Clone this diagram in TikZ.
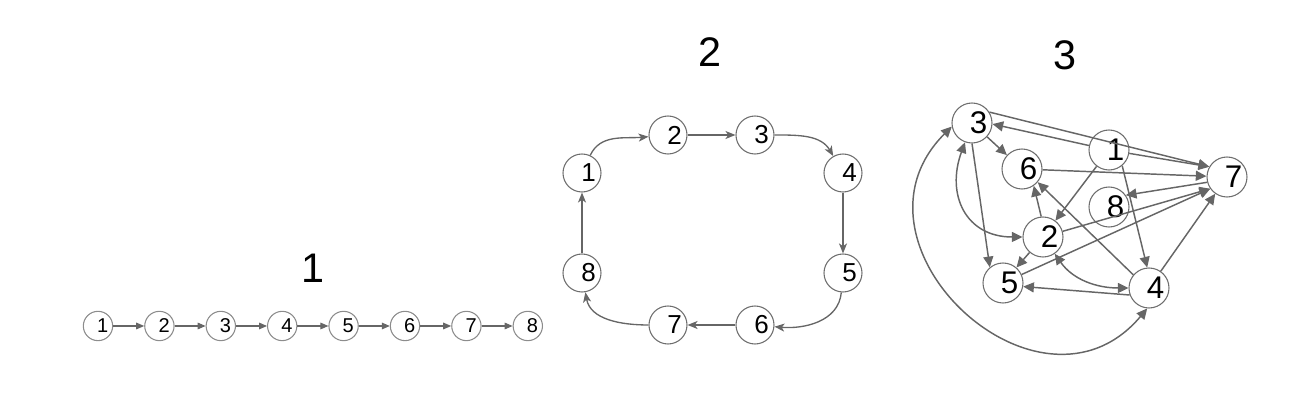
\documentclass[tikz,border=0pt]{standalone}
\usepackage{fontspec}
\setmainfont{Liberation Sans}
\usetikzlibrary{arrows.meta}
\definecolor{edgec}{HTML}{666666}
\definecolor{ringc}{HTML}{6E6E6E}
\definecolor{ringl}{HTML}{8C8C8C}
\begin{document}
\begin{tikzpicture}[x=0.75pt,y=0.75pt,
 n1/.style={circle,draw=ringl,line width=0.8pt,minimum size=22pt,inner sep=0pt},
 t1/.style={font=\fontsize{15}{16}\selectfont,xshift=3.5pt},
 e1/.style={draw=edgec,line width=0.8pt,-{Triangle[length=6pt,width=5pt]}},
 n2/.style={circle,draw=ringc,line width=0.8pt,minimum size=28.5pt,inner sep=0pt},
 t2/.style={font=\fontsize{19.5}{20}\selectfont,xshift=5pt},
 e2/.style={draw=edgec,line width=1pt,-{Stealth[length=7.5pt,width=6pt,inset=2pt]}},
 n3/.style={circle,draw=ringc,line width=0.8pt,minimum size=30pt,inner sep=0pt},
 t3/.style={font=\fontsize{23.5}{24}\selectfont,xshift=5pt},
 e3/.style={draw=edgec,line width=1.1pt,-{Triangle[length=8pt,width=7.5pt]}},
 b3/.style={draw=edgec,line width=1.1pt,{Triangle[length=8pt,width=7.5pt]}-{Triangle[length=8pt,width=7.5pt]}},
 ttl/.style={font=\fontsize{31}{32}\selectfont}]
\useasboundingbox (0,0) rectangle (1300,416);

% ---------- graph 1 ----------
\node[ttl] (h1) at (313,148) {1};
\foreach \i in {1,...,8} {
  \node[n1,label={[t1]center:\i}] (a\i) at ({98+61.4*(\i-1)},90) {};
}
\foreach \i [evaluate=\i as \j using int(\i+1)] in {1,...,7} {
  \draw[e1] (a\i) -- (a\j);
}

% ---------- graph 2 ----------
\node[ttl] (h2) at (710,364) {2};
\node[n2,label={[t2]center:1}] (b1) at (582,243) {};
\node[n2,label={[t2]center:2}] (b2) at (668,281) {};
\node[n2,label={[t2]center:3}] (b3) at (755,281) {};
\node[n2,label={[t2]center:4}] (b4) at (843,243) {};
\node[n2,label={[t2]center:5}] (b5) at (843,143) {};
\node[n2,label={[t2]center:6}] (b6) at (755,91) {};
\node[n2,label={[t2]center:7}] (b7) at (668,91) {};
\node[n2,label={[t2]center:8}] (b8) at (582,143) {};
\draw[e2] (b1) to[out=65,in=185] (b2);
\draw[e2] (b2) -- (b3);
\draw[e2] (b3) to[out=0,in=120] (b4);
\draw[e2] (b4) -- (b5);
\draw[e2] (b5) to[out=-95,in=-5] (b6);
\draw[e2] (b6) -- (b7);
\draw[e2] (b7) to[out=180,in=-80] (b8);
\draw[e2] (b8) -- (b1);

% ---------- graph 3 ----------
\node[ttl] (h3) at (1065,361) {3};
\node[n3,label={[t3]center:1}] (c1) at (1109,266) {};
\node[n3,label={[t3]center:2}] (c2) at (1043,179) {};
\node[n3,label={[t3]center:3}] (c3) at (972,293) {};
\node[n3,label={[t3]center:4}] (c4) at (1149,128) {};
\node[n3,label={[t3]center:5}] (c5) at (1003,133) {};
\node[n3,label={[t3]center:6}] (c6) at (1022,247) {};
\node[n3,label={[t3]center:7}] (c7) at (1227,239) {};
\node[n3,label={[t3]center:8}] (c8) at (1109,209) {};

\draw[e3] (c3.32) -- (c7.150);
\draw[e3] (c1) -- (c3.-3);
\draw[e3] (c1) -- (c7.150);
\draw[e3] (c3) -- (c6);
\draw[e3] (c6) -- (c7);
\draw[e3] (c7.195) -- (c8.35);
\draw[e3] (c1) -- (c2);
\draw[e3] (c1.-50) -- (c4.95);
\draw[e3] (c2.95) -- (c6.-55);
\draw[e3] (c4.140) -- (c6.-40);
\draw[e3] (c2) -- (c7.215);
\draw[e3] (c5) -- (c7.215);
\draw[e3] (c4) -- (c7);
\draw[e3] (c3.-90) -- (c5.130);
\draw[e3] (c2) -- (c5);
\draw[e3] (c4.200) -- (c5.-10);
\draw[b3] (c3) to[out=-110,in=180,looseness=1.3] (c2);
\draw[b3] (c2) to[out=-55,in=180] (c4);
\draw[b3] (c3.190) to[out=225,in=-130,looseness=1.6] (c4.-95);
\end{tikzpicture}
\end{document}
